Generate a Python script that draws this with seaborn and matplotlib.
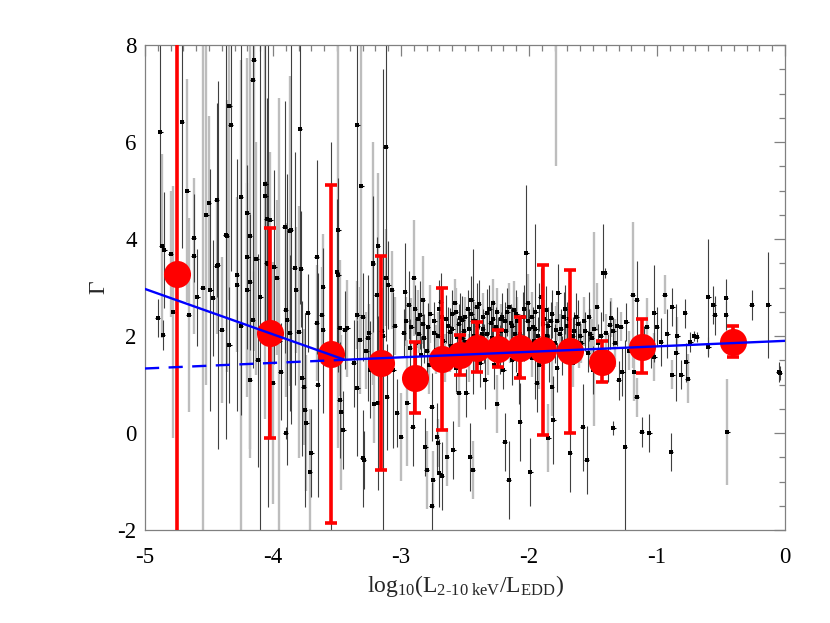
import numpy as np
import pandas as pd
import matplotlib
matplotlib.use("Agg")
import matplotlib.pyplot as plt
import seaborn as sns
from matplotlib.ticker import MultipleLocator

# ---------------- individual sources: (log L/LEDD, Gamma, error, sample) -------------
pts_far_low = [
    (-4.88, 6.20, 2.3, 'k'), (-4.87, 3.86, 1.9, 'g'), (-4.85, 3.77, 1.2, 'k'),
    (-4.80, 3.69, 1.3, 'g'), (-4.71, 6.41, 2.6, 'k'), (-4.67, 5.00, 2.3, 'g'),
    (-4.62, 4.02, 0.9, 'k'), (-4.62, 3.65, 1.6, 'g'), (-4.90, 2.37, 0.4, 'k'),
    (-4.86, 2.02, 0.3, 'k'), (-4.78, 2.49, 2.6, 'g'), (-4.66, 2.43, 2.0, 'g'),
    (-4.59, 2.80, 1.0, 'k'), (-4.55, 3.00, 6.0, 'g'), (-4.52, 4.49, 3.5, 'g'),
    (-4.50, 4.74, 1.8, 'g'), (-4.49, 2.95, 2.5, 'k'), (-4.47, 2.78, 1.2, 'k'),
    (-4.44, 4.80, 2.0, 'k'), (-4.44, 3.44, 1.4, 'g'), (-4.43, 3.46, 3.8, 'k'),
]
pts_low = [
    (-4.40, 2.12, 1.5, 'g'), (-4.37, 4.08, 4.2, 'k'), (-4.36, 4.06, 2.8, 'g'),
    (-4.34, 6.74, 4.0, 'g'), (-4.33, 6.35, 3.0, 'k'), (-4.34, 1.81, 1.2, 'k'),
    (-4.28, 3.26, 1.6, 'g'), (-4.28, 3.05, 2.6, 'k'), (-4.25, 4.87, 4.5, 'k'),
    (-4.25, 2.20, 5.5, 'g'), (-4.20, 4.54, 3.2, 'g'), (-4.20, 3.63, 1.9, 'k'),
    (-4.20, 2.95, 2.2, 'g'), (-4.18, 4.06, 4.4, 'g'), (-4.18, 3.11, 1.4, 'k'),
    (-4.18, 1.09, 1.6, 'g'), (-4.16, 7.28, 5.0, 'k'), (-4.16, 2.33, 1.0, 'k'),
    (-4.15, 7.69, 6.0, 'g'), (-4.13, 3.59, 2.4, 'g'), (-4.12, 1.50, 2.2, 'k'),
    (-4.10, 2.80, 6.0, 'k'), (-4.06, 5.13, 3.0, 'k'), (-4.06, 4.89, 4.6, 'g'),
    (-4.05, 4.41, 2.5, 'k'), (-4.05, 3.50, 1.7, 'g'), (-4.04, 3.48, 5.0, 'k'),
    (-4.02, 4.39, 1.4, 'g'), (-3.99, 3.42, 2.0, 'k'), (-3.97, 3.20, 1.6, 'g'),
    (-4.00, 1.03, 2.5, 'g'), (-3.95, 1.90, 5.0, 'g'), (-3.94, 1.26, 1.0, 'k'),
    (-3.91, 4.25, 2.6, 'k'), (-3.90, 0.00, 0.12, 'k'), (-3.90, 2.54, 1.8, 'g'),
    (-3.89, 2.33, 3.0, 'k'),
]
pts_mid_low = [
    (-3.87, 2.06, 1.6, 'k'), (-3.87, 4.16, 3.2, 'g'), (-3.86, 4.19, 4.0, 'k'),
    (-3.83, 3.40, 2.4, 'k'), (-3.82, 2.95, 1.3, 'g'), (-3.80, 2.08, 2.6, 'g'),
    (-3.79, 6.27, 3.6, 'k'), (-3.78, 3.38, 1.2, 'k'), (-3.77, 1.13, 1.6, 'k'),
    (-3.76, 0.95, 1.2, 'g'), (-3.75, 0.47, 2.0, 'k'), (-3.74, 0.20, 1.4, 'g'),
    (-3.73, 2.47, 0.8, 'k'), (-3.71, -0.80, 1.3, 'g'), (-3.70, -0.41, 0.9, 'k'),
    (-3.66, 2.27, 1.2, 'g'), (-3.66, 3.63, 2.0, 'k'), (-3.65, 0.99, 2.3, 'k'),
    (-3.62, 2.43, 1.0, 'g'), (-3.61, 2.12, 1.7, 'k'), (-3.61, 3.01, 1.1, 'g'),
    (-3.55, 1.50, 4.5, 'k'), (-3.50, 3.32, 1.5, 'k'), (-3.49, 4.19, 4.5, 'g'),
    (-3.49, 3.25, 2.0, 'k'), (-3.48, 2.16, 1.4, 'g'), (-3.48, 0.68, 1.2, 'k'),
    (-3.47, 0.43, 1.6, 'g'), (-3.45, 0.06, 0.8, 'k'), (-3.44, 2.12, 0.8, 'k'),
    (-3.42, 2.16, 1.0, 'g'),
]
pts_mid = [
    (-3.37, 1.44, 0.9, 'k'), (-3.34, 6.35, 4.0, 'k'), (-3.34, 2.43, 0.7, 'g'),
    (-3.34, 0.93, 1.4, 'k'), (-3.32, 1.91, 1.1, 'g'), (-3.31, 5.09, 3.2, 'g'),
    (-3.30, -0.52, 1.0, 'k'), (-3.30, 2.39, 0.9, 'k'), (-3.29, -0.56, 0.6, 'k'),
    (-3.27, 1.70, 0.8, 'g'), (-3.26, 1.95, 1.3, 'k'), (-3.25, 2.06, 0.6, 'g'),
    (-3.24, 1.30, 1.0, 'k'), (-3.22, 3.48, 1.4, 'k'), (-3.22, 3.50, 2.5, 'g'),
    (-3.21, 0.60, 0.8, 'g'), (-3.19, 2.85, 1.2, 'k'), (-3.18, 3.86, 1.5, 'g'),
    (-3.18, 0.62, 1.8, 'k'), (-3.15, 2.10, 0.9, 'g'), (-3.14, 2.00, 5.5, 'k'),
    (-3.12, 5.90, 4.0, 'k'), (-3.12, 3.20, 1.0, 'g'), (-3.11, 0.74, 1.1, 'k'),
    (-3.10, 3.05, 0.9, 'k'), (-3.07, 2.95, 0.8, 'g'), (-3.06, 1.30, 1.6, 'k'),
    (-3.05, 2.20, 0.6, 'g'), (-3.03, 0.41, 0.7, 'k'), (-3.00, -0.08, 0.9, 'g'),
    (-2.98, 2.06, 0.5, 'k'), (-2.97, 2.91, 1.0, 'k'), (-2.95, 0.62, 1.3, 'g'),
    (-2.94, 2.64, 0.7, 'k'), (-2.92, 2.19, 0.6, 'g'), (-2.91, 0.12, 0.8, 'k'),
    (-2.90, 3.20, 1.2, 'g'),
]
pts_dense_a = [
    (-2.88, 1.85, 0.5, 'k'), (-2.87, 2.35, 0.6, 'g'), (-2.85, 2.43, 0.7, 'k'),
    (-2.84, 1.60, 0.4, 'k'), (-2.83, 2.74, 0.9, 'g'), (-2.82, 1.95, 0.5, 'k'),
    (-2.81, -0.29, 0.6, 'k'), (-2.80, -0.76, 0.8, 'g'), (-2.79, 2.19, 0.5, 'k'),
    (-2.78, 1.40, 0.6, 'g'), (-2.76, 0.54, 0.7, 'k'), (-2.76, -1.50, 0.5, 'k'),
    (-2.75, -0.97, 0.6, 'g'), (-2.74, 2.06, 0.4, 'k'), (-2.73, 1.72, 0.5, 'g'),
    (-2.72, -0.08, 0.7, 'k'), (-2.71, -0.21, 0.5, 'g'), (-2.70, -0.82, 0.7, 'k'),
    (-2.70, 2.55, 0.6, 'k'), (-2.68, 2.39, 0.5, 'g'), (-2.68, -0.89, 0.7, 'k'),
    (-2.67, 1.90, 0.4, 'k'), (-2.66, 1.55, 0.5, 'g'), (-2.64, -0.49, 0.6, 'g'),
    (-2.63, 2.20, 0.4, 'k'), (-2.62, 2.08, 0.5, 'k'), (-2.61, 1.80, 0.3, 'g'),
    (-2.60, 2.45, 0.5, 'k'), (-2.59, -0.35, 0.6, 'k'), (-2.58, 2.68, 0.5, 'g'),
    (-2.57, 1.35, 0.5, 'k'), (-2.56, 1.98, 0.4, 'k'), (-2.55, 0.82, 0.7, 'g'),
    (-2.54, 2.38, 0.5, 'k'), (-2.53, 1.70, 0.4, 'g'), (-2.52, 2.33, 0.5, 'k'),
    (-2.51, 2.10, 0.3, 'k'), (-2.50, 1.88, 0.5, 'g'), (-2.49, 0.82, 0.5, 'k'),
    (-2.48, 2.55, 0.4, 'k'), (-2.47, 1.55, 0.5, 'g'), (-2.46, -0.49, 0.7, 'k'),
    (-2.45, 2.74, 0.5, 'k'), (-2.44, -0.76, 0.6, 'g'), (-2.44, 2.30, 1.5, 'k'),
    (-2.43, 2.00, 0.4, 'k'), (-2.42, 1.75, 0.5, 'g'), (-2.41, 2.60, 0.5, 'k'),
]
pts_dense_b = [
    (-2.40, 2.20, 0.4, 'g'), (-2.38, 1.45, 0.5, 'k'), (-2.37, 2.05, 0.3, 'k'),
    (-2.36, 2.39, 0.5, 'g'), (-2.35, 1.85, 0.4, 'k'), (-2.34, 1.10, 0.6, 'k'),
    (-2.33, 2.47, 0.5, 'k'), (-2.32, 1.60, 0.4, 'g'), (-2.30, 2.27, 0.4, 'k'),
    (-2.29, 1.95, 0.3, 'k'), (-2.28, 2.68, 0.5, 'g'), (-2.27, 1.40, 0.5, 'k'),
    (-2.26, 2.19, 0.4, 'k'), (-2.25, 0.60, 0.6, 'g'), (-2.24, 2.00, 0.4, 'k'),
    (-2.23, 1.72, 0.5, 'k'), (-2.22, 2.35, 0.3, 'g'), (-2.21, 2.39, 0.5, 'k'),
    (-2.20, 1.30, 0.4, 'k'), (-2.19, -0.19, 0.6, 'k'), (-2.18, 2.10, 0.4, 'g'),
    (-2.17, 2.49, 0.5, 'k'), (-2.16, -0.97, 0.8, 'k'), (-2.15, 1.85, 0.4, 'g'),
    (-2.14, 2.27, 0.4, 'k'), (-2.13, 1.50, 0.5, 'k'), (-2.12, 2.54, 0.6, 'g'),
    (-2.11, 2.05, 0.3, 'k'), (-2.10, 1.65, 0.4, 'k'), (-2.09, 2.30, 0.5, 'g'),
    (-2.08, 1.20, 0.6, 'k'), (-2.07, 0.23, 0.8, 'k'), (-2.06, 1.95, 0.4, 'g'),
    (-2.05, 2.40, 0.5, 'k'), (-2.04, 1.78, 0.3, 'k'), (-2.02, 3.71, 1.4, 'k'),
    (-2.01, 2.68, 0.6, 'g'), (-2.00, 2.15, 0.4, 'k'), (-1.99, -0.80, 0.7, 'k'),
    (-1.98, 1.55, 0.4, 'g'), (-1.97, 2.19, 0.4, 'k'), (-1.96, 1.90, 0.3, 'k'),
    (-1.95, 2.50, 1.8, 'k'), (-1.94, 1.03, 0.6, 'k'), (-1.93, 2.00, 0.4, 'k'),
    (-1.92, 1.40, 0.5, 'g'), (-1.91, 2.80, 0.6, 'k'),
]
pts_dense_c = [
    (-2.96, 2.30, 0.5, 'g'), (-2.93, 1.75, 0.6, 'k'), (-2.89, 2.55, 0.5, 'k'),
    (-2.86, 2.05, 0.4, 'g'), (-2.83, 2.25, 0.5, 'k'), (-2.80, 1.70, 0.5, 'k'),
    (-2.77, 2.45, 0.6, 'g'), (-2.74, 2.30, 0.4, 'k'), (-2.71, 2.00, 0.5, 'g'),
    (-2.69, 2.70, 0.6, 'k'), (-2.65, 2.35, 0.5, 'k'), (-2.62, 1.65, 0.4, 'g'),
    (-2.60, 2.15, 0.4, 'k'), (-2.57, 2.50, 0.5, 'g'), (-2.55, 2.25, 0.4, 'k'),
    (-2.52, 1.95, 0.5, 'k'), (-2.50, 2.40, 0.4, 'g'), (-2.47, 2.15, 0.4, 'k'),
    (-2.45, 2.45, 0.5, 'k'), (-2.42, 2.30, 0.4, 'g'), (-2.39, 2.65, 0.5, 'k'),
    (-2.36, 2.15, 0.4, 'k'), (-2.33, 2.05, 0.4, 'g'), (-2.31, 2.55, 0.5, 'k'),
    (-2.28, 2.35, 0.4, 'k'), (-2.25, 2.50, 0.5, 'g'), (-2.22, 2.10, 0.4, 'k'),
    (-2.19, 2.30, 0.4, 'k'), (-2.16, 2.60, 0.5, 'g'), (-2.13, 2.20, 0.4, 'k'),
    (-2.10, 2.45, 0.5, 'k'), (-2.07, 2.05, 0.4, 'g'), (-2.04, 2.55, 0.5, 'k'),
    (-2.01, 2.30, 0.4, 'k'), (-1.98, 2.40, 0.5, 'g'), (-1.95, 2.15, 0.4, 'k'),
    (-1.92, 2.60, 0.5, 'k'), (-1.88, 2.35, 0.4, 'g'), (-1.85, 2.20, 0.4, 'k'),
    (-1.82, 2.45, 0.5, 'k'), (-1.78, 2.30, 0.4, 'g'), (-1.75, 2.15, 0.4, 'k'),
    (-1.72, 2.55, 0.5, 'k'), (-1.69, 2.35, 0.4, 'g'), (-1.66, 2.00, 0.4, 'k'),
    (-1.62, 2.25, 0.5, 'k'), (-1.59, 1.85, 0.4, 'g'), (-1.56, 2.10, 0.4, 'k'),
    (-1.53, 2.40, 0.5, 'k'), (-1.51, 1.95, 0.4, 'g'),
]
pts_high = [
    (-1.89, 2.25, 0.4, 'k'), (-1.88, 1.70, 0.4, 'g'), (-1.87, 2.54, 0.5, 'k'),
    (-1.86, 2.00, 0.3, 'k'), (-1.85, -0.10, 0.7, 'g'), (-1.84, 1.55, 0.5, 'k'),
    (-1.83, 2.30, 0.4, 'k'), (-1.82, 0.95, 0.6, 'g'), (-1.81, 0.27, 0.9, 'k'),
    (-1.80, 1.85, 0.4, 'k'), (-1.79, 8.30, 2.8, 'g'), (-1.79, 2.12, 0.5, 'g'),
    (-1.78, 1.35, 0.5, 'k'), (-1.77, 2.89, 0.6, 'k'), (-1.76, 2.05, 0.4, 'g'),
    (-1.74, 1.60, 0.4, 'k'), (-1.73, 2.40, 0.5, 'k'), (-1.71, 1.90, 0.3, 'g'),
    (-1.70, 2.20, 0.5, 'k'), (-1.68, -0.41, 0.8, 'k'), (-1.66, 1.45, 0.5, 'g'),
    (-1.65, 2.10, 0.4, 'k'), (-1.63, 2.39, 0.5, 'k'), (-1.61, 1.75, 0.4, 'g'),
    (-1.60, 2.00, 0.3, 'k'), (-1.58, 0.12, 0.9, 'k'), (-1.57, 2.30, 0.5, 'g'),
    (-1.55, -0.56, 0.7, 'k'), (-1.54, 1.65, 0.4, 'k'), (-1.52, 2.05, 0.5, 'g'),
    (-1.50, 1.30, 0.5, 'k'), (-1.49, 2.15, 2.0, 'g'), (-1.47, 2.60, 0.5, 'g'),
    (-1.46, 1.85, 0.4, 'k'), (-1.44, 2.00, 0.5, 'k'), (-1.42, 3.30, 1.0, 'k'),
]
pts_top = [
    (-1.41, 3.30, 0.1, 'k'), (-1.40, 2.06, 0.4, 'g'), (-1.38, 1.55, 0.5, 'k'),
    (-1.37, 2.23, 0.5, 'k'), (-1.36, 2.38, 0.4, 'g'), (-1.34, 0.10, 0.15, 'k'),
    (-1.34, 2.10, 0.3, 'k'), (-1.33, 1.86, 0.5, 'g'), (-1.31, 2.20, 0.4, 'k'),
    (-1.30, 1.09, 0.4, 'k'), (-1.28, 2.19, 0.3, 'g'), (-1.27, 1.26, 0.5, 'k'),
    (-1.25, -0.29, 2.2, 'k'), (-1.24, 2.29, 0.4, 'k'), (-1.22, 1.70, 0.4, 'g'),
    (-1.19, 2.85, 1.5, 'g'), (-1.18, 1.26, 0.6, 'g'), (-1.16, 2.74, 0.8, 'k'),
    (-1.16, 0.74, 0.4, 'g'), (-1.12, 0.02, 0.3, 'k'), (-1.10, 1.90, 0.3, 'k'),
    (-1.08, 2.18, 0.6, 'g'), (-1.06, 0.00, 0.4, 'k'), (-1.05, 1.65, 0.3, 'k'),
    (-1.02, 2.47, 1.0, 'k'), (-1.02, 1.57, 0.5, 'g'), (-1.00, 2.19, 0.4, 'k'),
    (-0.97, 1.88, 0.5, 'k'), (-0.94, 2.85, 0.4, 'g'), (-0.92, 2.05, 0.5, 'k'),
    (-0.89, -0.39, 0.4, 'k'), (-0.88, 2.60, 0.4, 'k'), (-0.88, 1.20, 0.3, 'g'),
    (-0.85, 1.65, 1.0, 'k'), (-0.84, 2.00, 0.4, 'g'), (-0.81, 1.20, 0.3, 'k'),
    (-0.78, 2.47, 0.3, 'k'), (-0.77, 1.46, 0.4, 'k'), (-0.76, 1.12, 0.5, 'g'),
    (-0.74, 1.88, 0.2, 'k'), (-0.71, 2.00, 0.1, 'k'), (-0.69, 1.98, 0.1, 'k'),
    (-0.60, 2.80, 1.2, 'k'), (-0.60, 1.77, 0.2, 'k'), (-0.56, 2.64, 0.4, 'k'),
    (-0.55, 2.43, 0.4, 'k'), (-0.46, 2.78, 0.4, 'k'), (-0.46, 2.43, 0.3, 'k'),
    (-0.45, 0.02, 1.1, 'g'), (-0.26, 2.64, 0.3, 'k'), (-0.13, 2.64, 1.1, 'k'),
    (-0.05, 1.26, 0.2, 'k'), (-0.04, 1.24, 0.15, 'k'),
]

# ---------------- binned means (red) -------------------------------------------------
bin_lum = [-4.75, -4.02, -3.55, -3.16, -2.89, -2.68, -2.54, -2.41, -2.24, -2.07,
           -1.89, -1.68, -1.43, -1.12, -0.41]
bin_gamma = [3.28, 2.06, 1.63, 1.44, 1.14, 1.52, 1.60, 1.76, 1.74, 1.76,
             1.72, 1.69, 1.46, 1.77, 1.88]
bin_upper = [9.50, 4.23, 5.11, 3.64, 1.88, 2.99, 2.02, 2.29, 2.12, 2.39,
             3.47, 3.36, 1.90, 2.35, 2.21]
bin_lower = [-3.00, -0.10, -1.85, -0.77, 0.41, 0.06, 1.20, 1.26, 1.36, 1.13,
             -0.04, 0.01, 1.05, 1.24, 1.57]

# ---------------- fitted relations (blue) --------------------------------------------
fit_lum = [-5.0, -3.44, 0.0]
fit_gamma = [2.97, 1.51, 1.90]
ext_lum = [-5.0, -3.44]
ext_gamma = [1.33, 1.51]

# -------------------------------------------------------------------------------------
rows = (pts_far_low + pts_low + pts_mid_low + pts_mid + pts_dense_a + pts_dense_b
        + pts_dense_c + pts_high + pts_top)
df = pd.DataFrame(rows, columns=["lum", "gamma", "err", "sample"])

sns.set_style("white")
plt.rcParams["font.family"] = ["Liberation Serif", "DejaVu Serif"]
plt.rcParams["mathtext.fontset"] = "custom"
plt.rcParams["mathtext.rm"] = "Liberation Serif"
plt.rcParams["mathtext.it"] = "Liberation Serif:italic"
plt.rcParams["axes.unicode_minus"] = False

fig = plt.figure(figsize=(8.3, 6.23), dpi=100)
ax = fig.add_axes([145 / 830, 1 - 530 / 623, 640 / 830, 485 / 623])

shade = {"g": ("#bdbdbd", 1.7), "k": ("#404040", 0.8)}
for s in ["g", "k"]:
    sub = df[df["sample"] == s]
    ax.errorbar(sub["lum"], sub["gamma"], yerr=sub["err"], fmt="none",
                ecolor=shade[s][0], elinewidth=shade[s][1], capsize=0, zorder=1)
ax.errorbar(df["lum"], df["gamma"], xerr=0.018, fmt="none", ecolor="black",
            elinewidth=0.8, capsize=0, zorder=2)
sns.scatterplot(data=df, x="lum", y="gamma", color="black", s=5, marker="s",
                linewidth=0, ax=ax, zorder=2, legend=False)

bl = np.array(bin_lum)
bg = np.array(bin_gamma)
yerr = [bg - np.array(bin_lower), np.array(bin_upper) - bg]
ax.errorbar(bl, bg, yerr=yerr, fmt="none", ecolor="#ff0000", elinewidth=2.6,
            capsize=4, capthick=2.6, zorder=3)
sns.scatterplot(x=bl, y=bg, color="#ff0000", s=19.5 ** 2, linewidth=0, ax=ax,
                zorder=4, legend=False)

sns.lineplot(x=fit_lum, y=fit_gamma, color="#0000ff", linewidth=1.7, ax=ax,
             sort=False, estimator=None, zorder=5)
sns.lineplot(x=ext_lum, y=ext_gamma, color="#0000ff", linewidth=1.7, ax=ax,
             sort=False, estimator=None, zorder=5, linestyle=(0, (6, 4)))

ax.set_xlim(-5, 0)
ax.set_ylim(-2, 8)
ax.xaxis.set_major_locator(MultipleLocator(1))
ax.xaxis.set_minor_locator(MultipleLocator(0.1))
ax.yaxis.set_major_locator(MultipleLocator(2))
ax.yaxis.set_minor_locator(MultipleLocator(0.5))
ax.tick_params(which="both", direction="in", top=True, right=True,
               color="#808080", width=0.9, labelcolor="black")
ax.tick_params(which="major", length=8)
ax.tick_params(which="minor", length=4)
ax.tick_params(axis="x", which="major", pad=12, labelsize=16.5)
ax.tick_params(axis="y", which="major", pad=6, labelsize=16.5)
for sp in ax.spines.values():
    sp.set_color("#808080")
    sp.set_linewidth(0.9)

ax.set_xlabel(r"log$_{10}$(L$_{\mathregular{2‐10\ keV}}$/L$_{\mathregular{EDD}}$)",
              fontsize=17, labelpad=4)
ax.set_ylabel("Γ", fontsize=17, labelpad=6)

fig.savefig("out.png", dpi=100)
